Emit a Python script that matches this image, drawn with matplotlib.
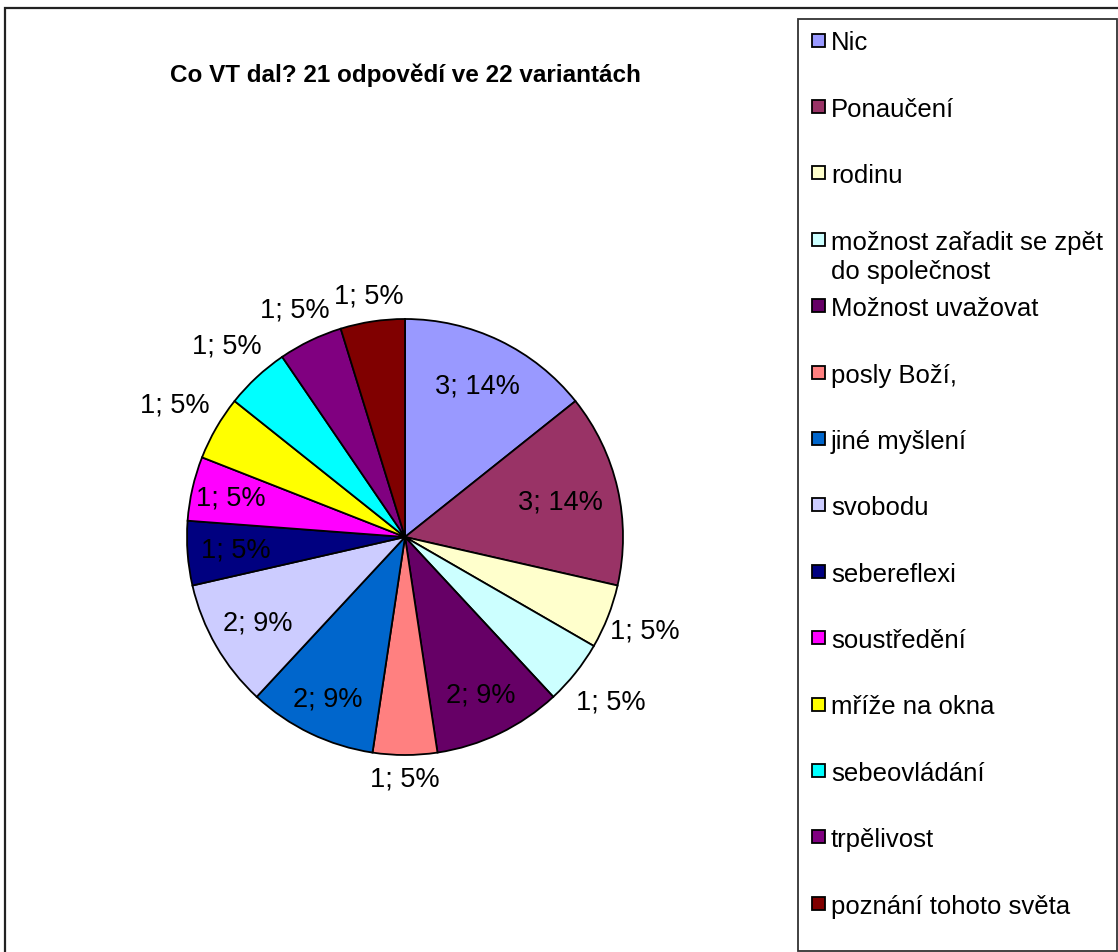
import matplotlib
matplotlib.use("Agg")
import matplotlib.pyplot as plt
from matplotlib.patches import Rectangle
import numpy as np

plt.rcParams['font.family'] = ['Liberation Sans', 'DejaVu Sans']

# ---- data ----
categories = ["Nic", "Ponaučení", "rodinu", "možnost zařadit se zpět\ndo společnost",
              "Možnost uvažovat", "posly Boží,", "jiné myšlení", "svobodu", "sebereflexi",
              "soustředění", "mříže na okna", "sebeovládání", "trpělivost",
              "poznání tohoto světa"]
values = [3, 3, 1, 1, 2, 1, 2, 2, 1, 1, 1, 1, 1, 1]
percents = [14, 14, 5, 5, 9, 5, 9, 9, 5, 5, 5, 5, 5, 5]
colors = ["#9999FF", "#993366", "#FFFFCC", "#CCFFFF", "#660066", "#FF8080", "#0066CC",
          "#CCCCFF", "#000080", "#FF00FF", "#FFFF00", "#00FFFF", "#800080", "#800000"]
title = "Co VT dal? 21 odpovědí ve 22 variantách"

# label radial positions (relative to pie radius) - styling
label_r = [0.77, 0.73, 1.18, 1.21, 0.80, 1.11, 0.82, 0.78, 0.78, 0.82, 1.22, 1.20, 1.16, 1.12]

W, H = 1118, 953
fig = plt.figure(figsize=(W / 100, H / 100), dpi=100)
fig.patch.set_facecolor("white")

def fx(px):
    return px / W

def fy(py):
    return 1 - py / H

# outer chart border
fig.patches.append(Rectangle((fx(5), fy(962)), fx(1130) - fx(5), fy(9) - fy(962),
                             transform=fig.transFigure, fill=False, edgecolor="#222222",
                             linewidth=1.6))

# pie axes
cx, cy, R = 405, 538, 218
ax = fig.add_axes([fx(cx - R), fy(cy + R), 2 * R / W, 2 * R / H])
wedges, _ = ax.pie(values, colors=colors, startangle=90, counterclock=False,
                   wedgeprops=dict(edgecolor="black", linewidth=1.3))
ax.set_xlim(-1, 1)
ax.set_ylim(-1, 1)
ax.set_aspect("auto")
ax.axis("off")

for w, v, p, r in zip(wedges, values, percents, label_r):
    th = np.deg2rad((w.theta1 + w.theta2) / 2)
    ax.text(r * np.cos(th), r * np.sin(th), f"{v}; {p}%", ha="center", va="center",
            fontsize=19.5, color="black", clip_on=False)

# title
fig.text(fx(405), fy(75), title, ha="center", va="center", fontsize=17.5,
         fontweight="bold", color="black")

# legend box
fig.patches.append(Rectangle((fx(798), fy(952)), fx(1117) - fx(798), fy(20) - fy(952),
                             transform=fig.transFigure, fill=True, facecolor="white",
                             edgecolor="#333333", linewidth=1.3))
y0, dy = 41, 66.4
for i, (lab, col) in enumerate(zip(categories, colors)):
    yc = y0 + i * dy
    fig.patches.append(Rectangle((fx(812), fy(yc + 6.5)), 13 / W, 13 / H,
                                 transform=fig.transFigure, facecolor=col,
                                 edgecolor="black", linewidth=1.3))
    lines = lab.split("\n")
    for j, ln in enumerate(lines):
        fig.text(fx(831), fy(yc + j * 29), ln, ha="left", va="center_baseline",
                 fontsize=18.5, color="black")

fig.savefig("out.png", dpi=100, facecolor="white")
